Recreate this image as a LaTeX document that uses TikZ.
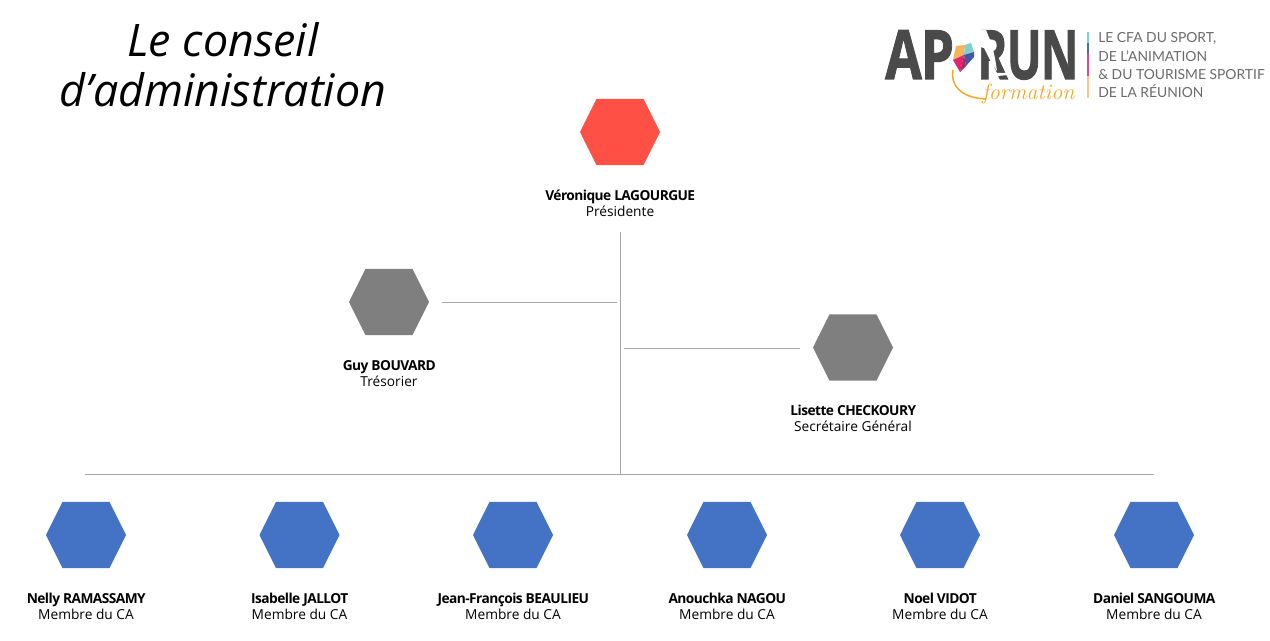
\documentclass[tikz,border=0pt]{standalone}
\usepackage{fontspec}
\setsansfont{Open Sans}
\newfontfamily\logofont{Lato}
\usetikzlibrary{calc}
\definecolor{redhex}{HTML}{FF5045}
\definecolor{grayhex}{HTML}{7F7F7F}
\definecolor{bluehex}{HTML}{4472C4}
\definecolor{rule}{HTML}{A6A6A6}
\definecolor{logodark}{HTML}{4A4A4A}
\definecolor{logotext}{HTML}{6A6A6A}
\definecolor{logoorange}{HTML}{F5A623}
\definecolor{kiteorange}{HTML}{F5B35C}
\definecolor{kiteteal}{HTML}{7FD1CF}
\definecolor{kitepink}{HTML}{E0246F}
\definecolor{kiteblue}{HTML}{4456A8}
\definecolor{kiteplum}{HTML}{B0285C}
\definecolor{barblue}{HTML}{5566B0}
\definecolor{barpink}{HTML}{E0488A}
\definecolor{barorange}{HTML}{F7C48A}
\newcommand{\hexa}[3]{%
  \coordinate (#1) at (#2);
  \fill[#3] ($(#1)+(-40,0)$) -- ($(#1)+(-23.5,-33.2)$) -- ($(#1)+(23.5,-33.2)$) -- ($(#1)+(40,0)$) -- ($(#1)+(23.5,33.2)$) -- ($(#1)+(-23.5,33.2)$) -- cycle;}
\newcommand{\person}[4]{\node[persontext] (#1) at (#2) {\textbf{\addfontfeatures{LetterSpace=-4}#3}\\#4};}
\tikzset{
  persontext/.style={font=\sffamily\fontsize{10.3pt}{12pt}\selectfont, align=center, inner sep=0pt, text=black},
  linkline/.style={draw=rule, line width=0.7pt},
  logoline/.style={font=\logofont\fontsize{10.4pt}{13.5pt}\selectfont, text=logotext, anchor=base west, inner sep=0pt},
  logobig/.style={font=\sffamily\bfseries\fontsize{51pt}{51pt}\selectfont, text=logodark, anchor=base west, inner sep=0pt}
}
\begin{document}
\begin{tikzpicture}[x=0.75pt,y=-0.75pt]
\useasboundingbox (0,0) rectangle (1270,641);
% title
\node[font=\sffamily\itshape\fontsize{33.6pt}{37.5pt}\selectfont, align=center, inner sep=0pt] (title) at (223,65) {Le conseil\\d’administration};
% hexagons
\hexa{pres}{620,132}{redhex}
\hexa{tres}{389,302}{grayhex}
\hexa{secr}{853,347.5}{grayhex}
\hexa{m1}{86,535}{bluehex}
\hexa{m2}{299.5,535}{bluehex}
\hexa{m3}{513,535}{bluehex}
\hexa{m4}{727,535}{bluehex}
\hexa{m5}{940,535}{bluehex}
\hexa{m6}{1154,535}{bluehex}
% labels
\person{lpres}{620,203}{Véronique LAGOURGUE}{Présidente}
\person{ltres}{389,373.5}{Guy BOUVARD}{Trésorier}
\person{lsecr}{853,418}{Lisette CHECKOURY}{Secrétaire Général}
\person{l1}{86,606}{Nelly RAMASSAMY}{Membre du CA}
\person{l2}{299.5,606}{Isabelle JALLOT}{Membre du CA}
\person{l3}{513,606}{Jean-François BEAULIEU}{Membre du CA}
\person{l4}{727,606}{Anouchka NAGOU}{Membre du CA}
\person{l5}{940,606}{Noel VIDOT}{Membre du CA}
\person{l6}{1154,606}{Daniel SANGOUMA}{Membre du CA}
% connectors
\coordinate (vtop) at (620,232);
\coordinate (vbot) at (620,474);
\coordinate (hl) at (85,474);
\coordinate (hr) at (1154,474);
\coordinate (t1) at (442,302);
\coordinate (t2) at (617,302);
\coordinate (s1) at (624,348);
\coordinate (s2) at (800,348);
\draw[linkline] (vtop) -- (vbot);
\draw[linkline] (hl) -- (hr);
\draw[linkline] (t1) -- (t2);
\draw[linkline] (s1) -- (s2);
% logo
\node[logobig, xscale=0.78] (logoa) at (885,79) {\addfontfeatures{LetterSpace=-2,FakeBold=1.5}AP};
\node[logobig, xscale=0.68] (logob) at (977,79) {\addfontfeatures{LetterSpace=-2,FakeBold=1.5}RUN};
\fill[white] (976,30) -- (986,30) .. controls (990,40) and (994,48) .. (997,71) -- (990,60) -- (984,48) -- (976,46) -- cycle;
\fill[white] (996,73) -- (1008,73) -- (1008,75) -- (998,76) -- cycle;
% kite
\fill[kiteorange] (956,46) -- (965,45) -- (964,55) -- (953,60) -- cycle;
\fill[kiteteal] (965,45) -- (971,43) -- (974,52) -- (964,55) -- cycle;
\fill[kitepink] (953,60) -- (964,55) -- (960,72) -- cycle;
\fill[kiteblue] (964,55) -- (974,52) -- (974,57) -- (966,66) -- cycle;
\fill[kiteplum] (964,55) -- (966,66) -- (960,72) -- cycle;
\draw[logoorange, line width=1.1pt] (953,70) .. controls (950,84) and (960,98) .. (986,99);
\node[font=\normalfont\itshape\fontsize{16.5pt}{17pt}\selectfont, text=logoorange, anchor=base west, inner sep=0pt] (logof) at (982,100) {formation};
% logo bar
\fill[kiteteal] (1087,32) rectangle (1089,43);
\fill[barblue] (1087,43) rectangle (1089,54);
\fill[barpink] (1087,54) rectangle (1089,76);
\fill[barorange] (1087,76) rectangle (1089,98);
\node[logoline] (c1) at (1098,43) {LE CFA DU SPORT,};
\node[logoline] (c2) at (1098,62) {DE L’ANIMATION};
\node[logoline] (c3) at (1098,80) {\& DU TOURISME SPORTIF};
\node[logoline] (c4) at (1098,98) {DE LA RÉUNION};
\end{tikzpicture}
\end{document}
